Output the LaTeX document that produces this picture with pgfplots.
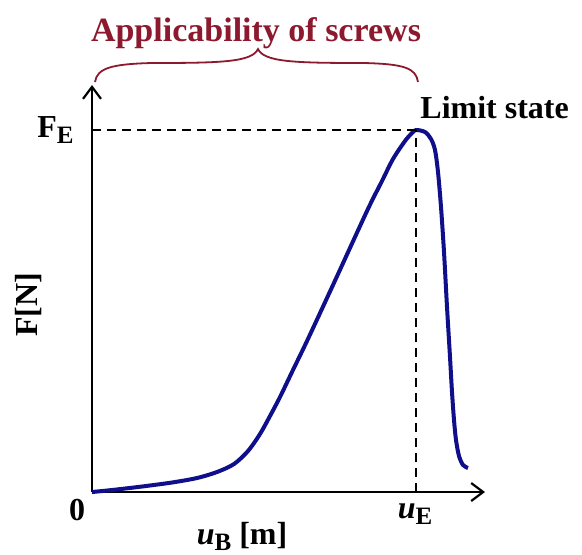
\documentclass[border=0pt]{standalone}
\usepackage{fontspec}
\setmainfont{Liberation Serif}
\usepackage{pgfplots}
\pgfplotsset{compat=1.18}
\usetikzlibrary{arrows.meta}
\definecolor{curveblue}{RGB}{15,15,140}
\definecolor{titlered}{RGB}{140,25,45}
\tikzset{lbl/.style={font=\bfseries\fontsize{16}{19}\selectfont, inner sep=0pt}}
\newcommand{\sub}[1]{\raisebox{-0.4ex}{\fontsize{12.5}{14}\selectfont #1}}
\begin{document}
\begin{tikzpicture}
\useasboundingbox (-46pt,-31pt) rectangle (245pt,246pt);
\begin{axis}[at={(0pt,0pt)}, anchor=origin, scale only axis,
  width=196.5pt, height=203.5pt,
  xmin=0, xmax=393, ymin=0, ymax=407,
  axis lines=left,
  axis line style={line width=1.1pt,-{Straight Barb[length=6pt,width=9pt,line width=1.1pt]}},
  xtick=\empty, ytick=\empty, clip=false]
\addplot[curveblue, line width=2pt, smooth, tension=0.5] coordinates {
(0,0) (20,2) (50,5.5) (80,9.5) (105,14) (125,20) (142,28) (156,41) (168,58)
(178,76) (188,95) (200,120) (215,151) (241,207) (275,281) (290,311) (301,333)
(313,351) (320,359) (324,362) (333,360) (339,353) (343,342) (346,320) (349,285)
(352,240) (355,185) (358,135) (360,100) (362,72) (364,52) (367,36) (371,27) (376,24)};
\draw[black, line width=1.1pt, dash pattern=on 4.5pt off 3pt] (axis cs:0,362) -- (axis cs:324,362);
\draw[black, line width=1.1pt, dash pattern=on 4.5pt off 3pt] (axis cs:324,0) -- (axis cs:324,362);
\node[lbl, titlered, font=\bfseries\fontsize{17}{20}\selectfont] at (axis cs:164,459) {Applicability of screws};
\draw[titlered, line width=0.9pt] (axis cs:3,410) .. controls (axis cs:5,424) and (axis cs:20,428) .. (axis cs:60,429)
  .. controls (axis cs:130,429) and (axis cs:160,430) .. (axis cs:166,443)
  .. controls (axis cs:172,430) and (axis cs:202,429) .. (axis cs:272,429)
  .. controls (axis cs:312,428) and (axis cs:324,424) .. (axis cs:326,410);
\node[lbl, anchor=west] at (axis cs:328,384) {Limit state};
\node[lbl, anchor=east] at (axis cs:-18,362) {F\sub{E}};
\node[lbl, rotate=90] at (axis cs:-63,187) {F[N]};
\node[lbl] at (axis cs:-15,-18) {0};
\node[lbl] at (axis cs:323,-22) {\textit{u}\sub{E}};
\node[lbl] at (axis cs:150,-44) {\textit{u}\sub{B} [m]};
\end{axis}
\end{tikzpicture}
\end{document}
